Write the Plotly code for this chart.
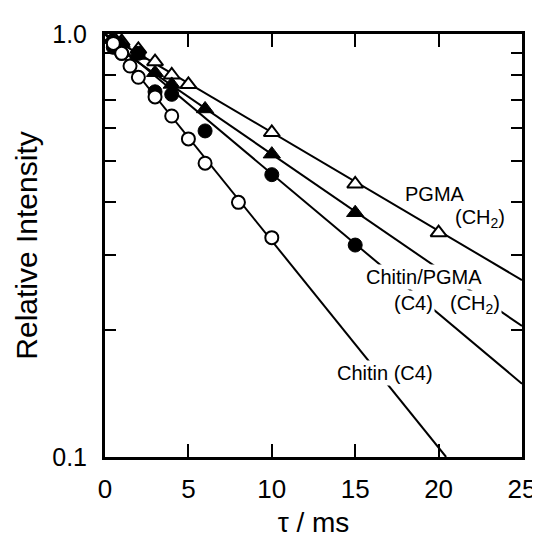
import plotly.graph_objects as go

# ---- data ----
chitin_x = [0.5, 1, 1.5, 2, 3, 4, 5, 6, 8, 10]
chitin_y = [0.95, 0.90, 0.84, 0.79, 0.71, 0.64, 0.565, 0.495, 0.40, 0.33]

blend_c4_x = [0.5, 1, 2, 3, 4, 6, 10, 15]
blend_c4_y = [0.93, 0.90, 0.90, 0.73, 0.72, 0.59, 0.465, 0.317]

blend_ch2_x = [0.5, 1, 2, 3, 4, 6, 10, 15]
blend_ch2_y = [0.97, 0.95, 0.89, 0.81, 0.76, 0.665, 0.52, 0.378]

pgma_x = [0.5, 1, 2, 3, 4, 5, 10, 15, 20]
pgma_y = [0.98, 0.96, 0.92, 0.86, 0.80, 0.76, 0.585, 0.442, 0.339]

# fitted lines (end points)
fit_chitin_x = [0, 20.45]
fit_chitin_y = [1.0, 0.1]
fit_blend_c4_x = [0, 25]
fit_blend_c4_y = [1.0, 0.149]
fit_blend_ch2_x = [0, 25]
fit_blend_ch2_y = [0.97, 0.204]
fit_pgma_x = [0, 25]
fit_pgma_y = [1.0, 0.262]

x_ticks = [0, 5, 10, 15, 20, 25]
y_ticks = [0.1, 1.0]
y_ticktext = ["0.1", "1.0"]
y_minor = [0.2, 0.3, 0.4, 0.5, 0.6, 0.7, 0.8, 0.9]

FONT = "Liberation Sans, Arial, sans-serif"

fig = go.Figure()

for fx, fy in [(fit_chitin_x, fit_chitin_y), (fit_blend_c4_x, fit_blend_c4_y),
               (fit_blend_ch2_x, fit_blend_ch2_y), (fit_pgma_x, fit_pgma_y)]:
    fig.add_trace(go.Scatter(x=fx, y=fy, mode="lines",
                             line=dict(color="black", width=2), showlegend=False,
                             hoverinfo="skip"))

fig.add_trace(go.Scatter(x=pgma_x, y=pgma_y, mode="markers", name="PGMA (CH2)",
                         marker=dict(symbol="triangle-up", size=14, color="white",
                                     line=dict(color="black", width=2))))
fig.add_trace(go.Scatter(x=blend_ch2_x, y=blend_ch2_y, mode="markers", name="Chitin/PGMA (CH2)",
                         marker=dict(symbol="triangle-up", size=15, color="black",
                                     line=dict(color="black", width=1))))
fig.add_trace(go.Scatter(x=blend_c4_x, y=blend_c4_y, mode="markers", name="Chitin/PGMA (C4)",
                         marker=dict(symbol="circle", size=14, color="black",
                                     line=dict(color="black", width=1))))
fig.add_trace(go.Scatter(x=chitin_x, y=chitin_y, mode="markers", name="Chitin (C4)",
                         marker=dict(symbol="circle", size=13, color="white",
                                     line=dict(color="black", width=2))))

labels = [
    ("PGMA", 19.8, -0.378),
    ("(CH<sub>2</sub>)", 22.5, -0.436),
    ("Chitin/PGMA", 19.15, -0.574),
    ("(C4)", 18.5, -0.636),
    ("(CH<sub>2</sub>)", 22.2, -0.640),
    ("Chitin (C4)", 16.8, -0.802),
]
for txt, ax_, ay_ in labels:
    fig.add_annotation(x=ax_, y=ay_, text=txt, showarrow=False,
                       font=dict(family=FONT, size=20, color="black"),
                       bgcolor="white", borderpad=1)

fig.update_layout(
    width=540, height=538,
    margin=dict(l=97, r=20, t=25, b=79),
    paper_bgcolor="white", plot_bgcolor="white",
    showlegend=False,
    font=dict(family=FONT, color="black"),
)
fig.update_xaxes(
    range=[0, 25], tickvals=x_ticks, ticks="inside", ticklen=13, tickwidth=2,
    tickcolor="black", showline=True, linecolor="black", linewidth=3,
    mirror="ticks", showgrid=False, zeroline=False,
    tickfont=dict(size=26, family=FONT), ticklabelstandoff=7,
    title=dict(text="τ / ms", font=dict(size=28, family=FONT), standoff=10),
)
fig.update_yaxes(
    type="log", range=[-1, 0], tickvals=y_ticks, ticktext=y_ticktext,
    ticks="inside", ticklen=13, tickwidth=2, tickcolor="black",
    showline=True, linecolor="black", linewidth=3, mirror="ticks",
    showgrid=False, zeroline=False,
    minor=dict(tickvals=y_minor, ticks="inside", ticklen=11, tickwidth=2,
               tickcolor="black", showgrid=False),
    tickfont=dict(size=25, family=FONT), ticklabelstandoff=10,
    title=dict(text="Relative Intensity", font=dict(size=30, family=FONT), standoff=6),
)

fig.write_html("out.html")
